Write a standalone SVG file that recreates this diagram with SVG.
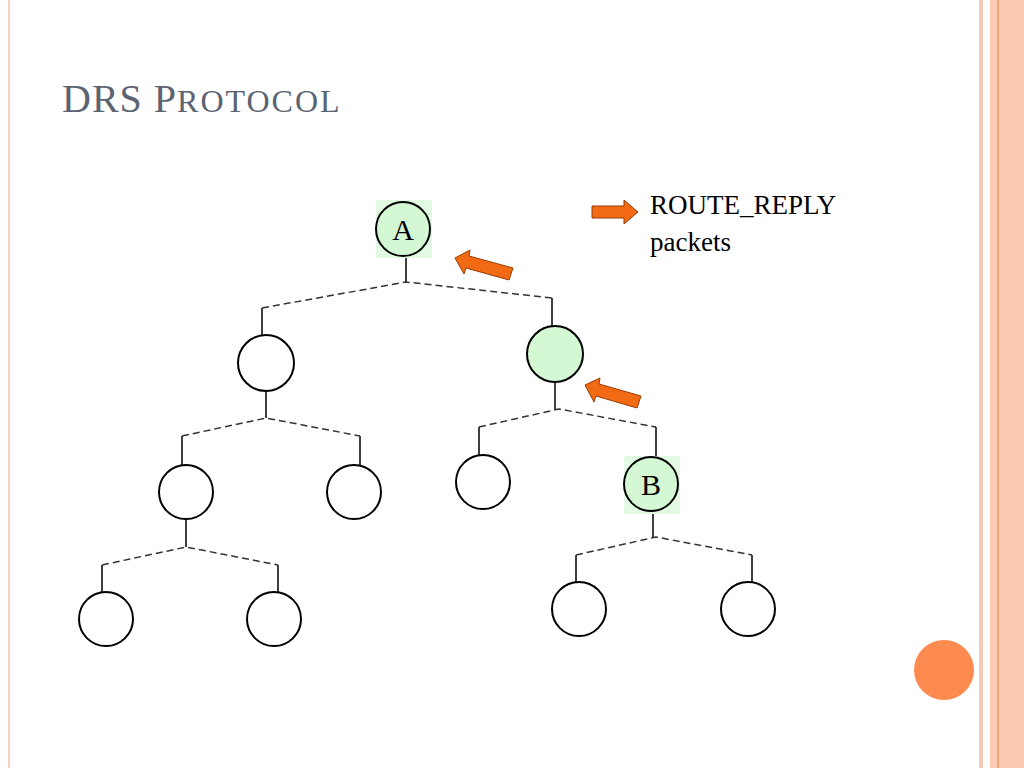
<svg xmlns="http://www.w3.org/2000/svg" width="1024" height="768" viewBox="0 0 1024 768">
<style>
.n{fill:#fff;stroke:#000;stroke-width:2}
.g{fill:#d4f7d4;stroke:#000;stroke-width:2}
.s{stroke:#000;stroke-width:1.5;fill:none}
.d{stroke:#333;stroke-width:1.5;fill:none;stroke-dasharray:7,4}
.t{font-family:"Liberation Serif",serif;fill:#000}
.ar{fill:#f36a14;stroke:#9a3a00;stroke-width:1}
</style>
<rect width="1024" height="768" fill="#fff"/>
<rect x="8" y="0" width="2" height="768" fill="#f7d0c4"/>
<rect x="979" y="0" width="4" height="768" fill="#f9c9b8"/>
<rect x="990" y="0" width="34" height="768" fill="#fcc9b3"/>
<rect x="997" y="0" width="2" height="768" fill="#f5a57a"/>
<text x="62" y="112" font-family="Liberation Serif,serif" fill="#5b6470" font-size="40" letter-spacing="1">DRS P<tspan font-size="32" letter-spacing="2">ROTOCOL</tspan></text>
<g id="connectors">
<path class="s" d="M406,256V282M262,308V336M552,298V327M266,391V418M182,436V465M360,436V465M555,382V409M479,427V455M656,427V457M186,519V547M102,565V592M278,565V592M653,511V537M576,555V582M752,555V582"/>
<path class="d" d="M262,308L406,282L552,298M182,436L266,418L360,436M479,427L559,409L656,427M102,565L186,547L278,565M576,555L656,537L752,555"/>
</g>
<g id="A"><rect x="376" y="200" width="56" height="58" fill="#e2f9e2"/><circle class="g" cx="403" cy="229" r="27"/><text class="t" x="403" y="240" font-size="30" text-anchor="middle">A</text></g>
<g id="n1"><circle class="n" cx="266" cy="363" r="28"/></g>
<g id="n2"><circle class="g" cx="555" cy="354" r="28"/></g>
<g id="n3"><circle class="n" cx="186" cy="492" r="27"/></g>
<g id="n4"><circle class="n" cx="354" cy="492" r="27"/></g>
<g id="n5"><circle class="n" cx="483" cy="482" r="27"/></g>
<g id="B"><rect x="624" y="456" width="56" height="58" fill="#e2f9e2"/><circle class="g" cx="651" cy="484" r="27"/><text class="t" x="651" y="495" font-size="30" text-anchor="middle">B</text></g>
<g id="n6"><circle class="n" cx="106" cy="619" r="27"/></g>
<g id="n7"><circle class="n" cx="274" cy="619" r="27"/></g>
<g id="n8"><circle class="n" cx="579" cy="609" r="27"/></g>
<g id="n9"><circle class="n" cx="748" cy="609" r="27"/></g>
<g id="arrows">
<polygon class="ar" points="455,258 470,250 469,256 513,268 509,280 466,268 464,274"/>
<polygon class="ar" points="585,385 600,378 599,384 641,396 637,408 596,396 594,402"/>
<polygon class="ar" points="592,206 624,206 624,200 638,212 624,224 624,218 592,218"/>
</g>
<g id="legend"><text class="t" x="650" y="214" font-size="27">ROUTE_REPLY</text><text class="t" x="650" y="251" font-size="27">packets</text></g>
<circle cx="944" cy="670" r="30" fill="#fd8a4f"/>
</svg>
